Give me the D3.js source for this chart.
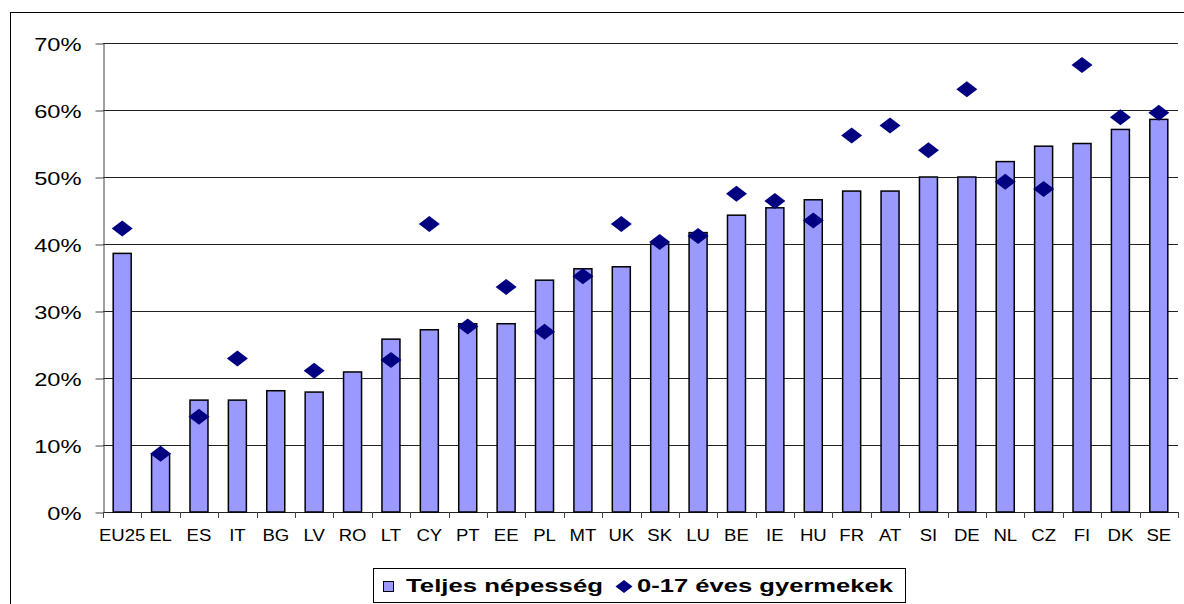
<!DOCTYPE html>
<html>
<head>
<meta charset="utf-8">
<script src="https://cdn.jsdelivr.net/npm/d3@7/dist/d3.min.js"></script>
<style>
  body { margin: 0; background: #fff; }
  svg { display: block; font-family: "Liberation Sans", Arial, sans-serif; }
</style>
</head>
<body>
<svg id="chart" width="1184" height="604"></svg>
<script>
// countries, ordered as in the source chart
var countries = ["EU25", "EL", "ES", "IT", "BG", "LV", "RO", "LT", "CY", "PT", "EE", "PL", "MT", "UK",
  "SK", "LU", "BE", "IE", "HU", "FR", "AT", "SI", "DE", "NL", "CZ", "FI", "DK", "SE"];

// Teljes népesség (bars)
var totalPop = [0.386, 0.087, 0.167, 0.167, 0.181, 0.179, 0.209, 0.258, 0.272, 0.281, 0.281, 0.346, 0.363,
  0.366, 0.400, 0.417, 0.443, 0.454, 0.466, 0.479, 0.479, 0.500, 0.500, 0.523, 0.546, 0.550, 0.571, 0.586];

// 0-17 éves gyermekek (diamonds), null = no value
var children = [0.423, 0.087, 0.142, 0.229, null, 0.211, null, 0.227, 0.430, 0.277, 0.336, 0.269, 0.352,
  0.430, 0.403, 0.412, 0.475, 0.464, 0.435, 0.562, 0.577, 0.540, 0.631, 0.493, 0.482, 0.667, 0.589, 0.596];

var yTicks = [0, 0.1, 0.2, 0.3, 0.4, 0.5, 0.6, 0.7];
var legendLabels = ["Teljes népesség", "0-17 éves gyermekek"];

var barColor = "#9999ff";
var dotColor = "#000080";

function drawChart() {
  var svg = d3.select("#chart");

  // outer chart frame (clipped by the picture on the right / bottom)
  svg.append("rect").attr("x", 10.5).attr("y", 12.5).attr("width", 1200).attr("height", 620)
    .attr("fill", "none").attr("stroke", "#000").attr("stroke-width", 1);

  var plotLeft = 103, plotRight = 1178, plotTop = 43, plotBottom = 512;

  var x = d3.scaleBand().domain(countries).range([plotLeft, plotRight]);
  var y = d3.scaleLinear().domain([0, 0.7]).range([plotBottom, plotTop]);

  // gridlines
  svg.append("g").selectAll("line").data(yTicks).join("line")
    .attr("x1", plotLeft).attr("x2", plotRight)
    .attr("y1", function(d) { return Math.round(y(d)) + 0.5; })
    .attr("y2", function(d) { return Math.round(y(d)) + 0.5; })
    .attr("stroke", "#222").attr("stroke-width", 1);

  // y axis
  var yAxis = svg.append("g").attr("transform", "translate(" + (plotLeft + 0.5) + ",0.5)")
    .call(d3.axisLeft(y).tickValues(yTicks).tickFormat(d3.format(".0%")).tickSize(8).tickSizeOuter(0));
  yAxis.select(".domain").attr("stroke", "#444");
  yAxis.selectAll(".tick line").attr("stroke", "#444");
  yAxis.selectAll(".tick text")
    .attr("font-size", 18.5).attr("fill", "#000").attr("font-family", "Liberation Sans, Arial, sans-serif")
    .attr("x", -22 / 1.28).attr("dy", "0.36em")
    .attr("transform", "scale(1.28,1)");

  // x axis: labels centred on each country, ticks at band boundaries
  var xAxis = svg.append("g").attr("transform", "translate(0," + (plotBottom + 0.5) + ")")
    .call(d3.axisBottom(x).tickSize(0).tickSizeOuter(0).tickPadding(0));
  xAxis.select(".domain").remove();
  xAxis.selectAll(".tick text")
    .attr("font-size", 16).attr("fill", "#000").attr("font-family", "Liberation Sans, Arial, sans-serif")
    .attr("y", 29).attr("dy", 0)
    .attr("transform", "scale(1.16,1)");
  svg.append("g").selectAll("line").data(countries.concat(["end"])).join("line")
    .attr("x1", function(d, i) { return Math.round(plotLeft + i * x.step()) + 0.5; })
    .attr("x2", function(d, i) { return Math.round(plotLeft + i * x.step()) + 0.5; })
    .attr("y1", plotBottom).attr("y2", plotBottom + 6)
    .attr("stroke", "#444");

  // bars
  var barW = 18;
  svg.append("g").selectAll("rect").data(totalPop).join("rect")
    .attr("x", function(d, i) { return x(countries[i]) + (x.bandwidth() - barW) / 2; })
    .attr("y", function(d) { return y(d); })
    .attr("width", barW)
    .attr("height", function(d) { return plotBottom - y(d); })
    .attr("fill", barColor).attr("stroke", "#000").attr("stroke-width", 1.5);

  // diamonds
  svg.append("g").selectAll("path")
    .data(children.map(function(d, i) { return { c: countries[i], v: d }; })
      .filter(function(d) { return d.v !== null; }))
    .join("path")
    .attr("d", function(d) { return diamond(x(d.c) + x.bandwidth() / 2, y(d.v), 21, 16); })
    .attr("fill", dotColor);

  // legend
  var legend = svg.append("g");
  legend.append("rect").attr("x", 373.5).attr("y", 568.5).attr("width", 532).attr("height", 34)
    .attr("fill", "#fff").attr("stroke", "#000").attr("stroke-width", 1);
  legend.append("rect").attr("x", 383.5).attr("y", 581.5).attr("width", 10).attr("height", 10)
    .attr("fill", barColor).attr("stroke", "#000").attr("stroke-width", 1);
  legend.append("text").attr("x", 406).attr("y", 592)
    .attr("font-size", 17.5).attr("font-weight", "bold")
    .attr("textLength", 197).attr("lengthAdjust", "spacingAndGlyphs")
    .text(legendLabels[0]);
  legend.append("path").attr("d", diamond(624, 586.5, 17, 13)).attr("fill", dotColor);
  legend.append("text").attr("x", 637).attr("y", 592)
    .attr("font-size", 17.5).attr("font-weight", "bold")
    .attr("textLength", 256).attr("lengthAdjust", "spacingAndGlyphs")
    .text(legendLabels[1]);
} // drawChart

function diamond(cx, cy, w, h) {
  return "M" + (cx - w / 2) + "," + cy + "L" + cx + "," + (cy - h / 2) +
    "L" + (cx + w / 2) + "," + cy + "L" + cx + "," + (cy + h / 2) + "Z";
} // diamond

drawChart();
</script>
</body>
</html>
